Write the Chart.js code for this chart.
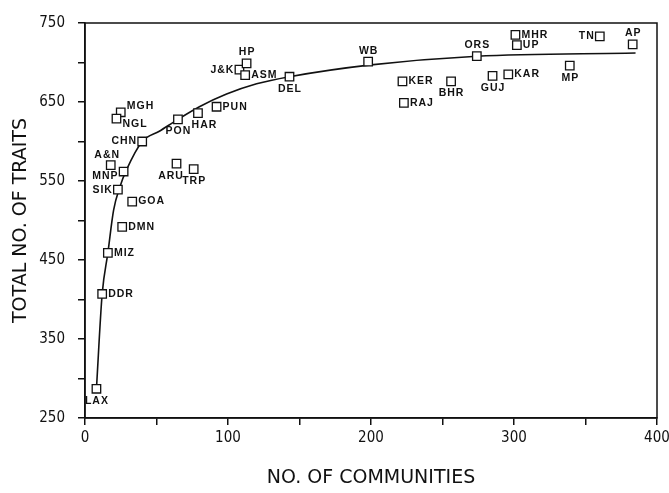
<!DOCTYPE html>
<html>
<head>
<meta charset="utf-8">
<script src="https://cdn.jsdelivr.net/npm/chart.js@4.4.1/dist/chart.umd.min.js"></script>
<style>
  html, body { margin: 0; padding: 0; background: #fff; }
  #wrap { width: 669px; height: 493px; }
</style>
</head>
<body>
<div id="wrap"><canvas id="traitsChart"></canvas></div>
<script>
// populations (state codes) with no. of communities and total no. of traits
const names = ["LAX", "DDR", "MIZ", "DMN", "GOA", "SIK", "MNP", "A&N", "CHN", "ARU",
  "TRP", "PON", "MGH", "NGL", "HAR", "PUN", "J&K", "HP", "ASM", "DEL",
  "WB", "ORS", "MHR", "UP", "TN", "AP", "KER", "RAJ", "BHR", "GUJ", "KAR", "MP"];
const communities = [8, 12, 16, 26, 33, 23, 27, 18, 40, 64,
  76, 65, 25, 22, 79, 92, 108, 113, 112, 143,
  198, 274, 301, 302, 360, 383, 222, 223, 256, 285, 296, 339];
const traits = [287, 407, 459, 492, 524, 539, 562, 570, 600, 572,
  565, 628, 637, 629, 636, 644, 691, 699, 684, 682,
  701, 708, 735, 722, 733, 723, 676, 649, 676, 683, 685, 696];

// fitted curve
const curveX = [8, 12, 16, 20, 24.5, 29, 40, 52, 65, 80, 99, 120, 143, 200, 274, 385];
const curveY = [287, 407, 459, 513, 543, 564, 600, 613, 628, 644, 660, 673, 682, 697, 708, 712];

const xTickLabels = [0, 100, 200, 300, 400];
const yTickLabels = [250, 350, 450, 550, 650, 750];

// where each label sits around its marker
const labelPlace = {
  LAX: "below", DDR: "right", MIZ: "right", DMN: "right", GOA: "right",
  SIK: "left", MNP: "leftLow", "A&N": "aboveLeft", CHN: "left", ARU: "belowLeft",
  TRP: "below", PON: "below", MGH: "rightHigh", NGL: "rightLow", HAR: "belowRight",
  PUN: "right", "J&K": "left", HP: "above", ASM: "right", DEL: "below",
  WB: "above", ORS: "above", MHR: "right", UP: "right", TN: "left", AP: "above",
  KER: "right", RAJ: "right", BHR: "below", GUJ: "below", KAR: "right", MP: "below",
};

const ink = "#111";
const tickFont = { family: "'DejaVu Sans Condensed', 'DejaVu Sans', sans-serif", size: 15 };
const titleFont = { family: "'DejaVu Sans', sans-serif", size: 19 };

const pointLabels = {
  id: "pointLabels",
  afterDatasetsDraw(chart) {
    const ctx = chart.ctx;
    const meta = chart.getDatasetMeta(1);
    ctx.save();
    ctx.fillStyle = ink;
    ctx.font = "bold 10.5px 'Liberation Sans', Arial, sans-serif";
    ctx.letterSpacing = "1px";
    meta.data.forEach((pt, i) => {
      const name = names[i];
      const where = labelPlace[name] || "right";
      let x = pt.x, y = pt.y;
      ctx.textAlign = "left";
      ctx.textBaseline = "middle";
      if (where === "right") { x += 6; }
      else if (where === "rightHigh") { x += 6; y -= 6; }
      else if (where === "rightLow") { x += 6; y += 6; }
      else if (where === "left") { x -= 5; ctx.textAlign = "right"; }
      else if (where === "leftLow") { x -= 5; y += 5; ctx.textAlign = "right"; }
      else if (where === "above") { x += 0.5; y -= 11; ctx.textAlign = "center"; }
      else if (where === "aboveLeft") { x -= 3.5; y -= 10; ctx.textAlign = "center"; }
      else if (where === "below") { x += 0.5; y += 12; ctx.textAlign = "center"; }
      else if (where === "belowLeft") { x -= 5.5; y += 12; ctx.textAlign = "center"; }
      else if (where === "belowRight") { x += 6.5; y += 12; ctx.textAlign = "center"; }
      ctx.fillText(name, x, y);
    });
    ctx.restore();
  },
};

const frame = {
  id: "frame",
  beforeDatasetsDraw(chart) {
    const a = chart.chartArea;
    const ctx = chart.ctx;
    ctx.save();
    ctx.strokeStyle = ink;
    ctx.lineWidth = 1.5;
    ctx.strokeRect(a.left, a.top, a.right - a.left, a.bottom - a.top);
    ctx.restore();
  },
};

new Chart(document.getElementById("traitsChart"), {
  type: "scatter",
  data: {
    datasets: [
      {
        type: "line",
        label: "fit",
        data: curveX.map((x, i) => ({ x: x, y: curveY[i] })),
        borderColor: ink,
        borderWidth: 1.6,
        pointRadius: 0,
        cubicInterpolationMode: "monotone",
        fill: false,
        order: 2,
      },
      {
        label: "states",
        data: communities.map((x, i) => ({ x: x, y: traits[i] })),
        pointStyle: "rect",
        pointRadius: 6,
        pointBorderWidth: 1.3,
        borderColor: ink,
        backgroundColor: "#fff",
        order: 1,
      },
    ],
  },
  options: {
    responsive: true,
    maintainAspectRatio: false,
    animation: false,
    layout: { padding: { top: 23, right: 12, left: 0, bottom: 0 } },
    plugins: {
      legend: { display: false },
      tooltip: { enabled: false },
    },
    scales: {
      x: {
        min: 0,
        max: 400,
        afterFit: (s) => { s.height = 75; s.paddingRight = 0; s.paddingLeft = 0; },
        ticks: {
          stepSize: 50,
          color: ink,
          font: tickFont,
          padding: 4,
          maxRotation: 0,
          autoSkip: false,
          callback: (v) => (xTickLabels.includes(v) ? v : ""),
        },
        grid: { drawOnChartArea: false, drawTicks: true, tickLength: 7, color: ink, lineWidth: 1.5 },
        border: { display: true, color: ink, width: 1.5 },
        title: { display: true, text: "NO. OF COMMUNITIES", color: ink, font: titleFont, padding: { top: 4, bottom: 4 } },
      },
      y: {
        min: 250,
        max: 750,
        afterFit: (s) => { s.width = 85; },
        ticks: {
          stepSize: 50,
          color: ink,
          font: tickFont,
          padding: 13,
          autoSkip: false,
          callback: (v) => (yTickLabels.includes(v) ? v : ""),
        },
        grid: { drawOnChartArea: false, drawTicks: true, tickLength: 7, color: ink, lineWidth: 1.5 },
        border: { display: true, color: ink, width: 1.5 },
        title: { display: true, text: "TOTAL NO. OF TRAITS", color: ink, font: titleFont, padding: { top: 10, bottom: 0 } },
      },
    },
  },
  plugins: [frame, pointLabels],
});
</script>
</body>
</html>
